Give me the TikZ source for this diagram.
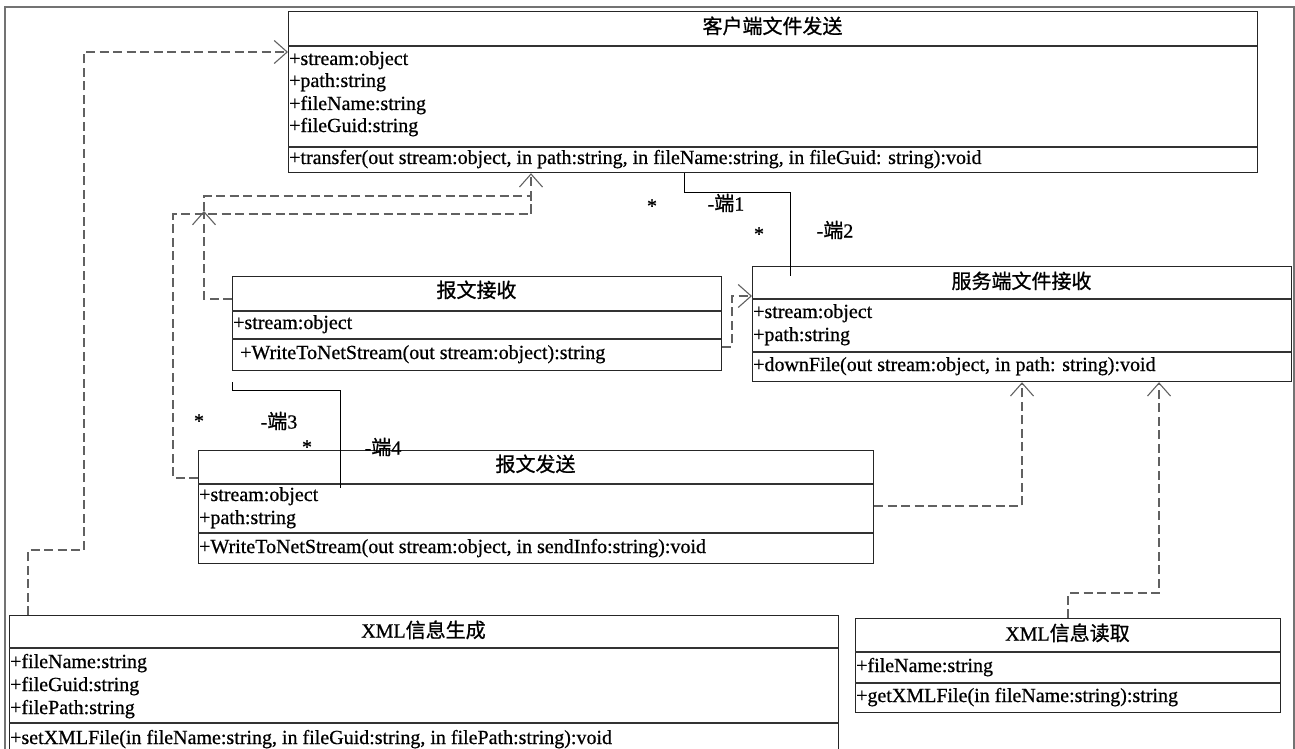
\documentclass[tikz,border=0pt]{standalone}
\usepackage{fontspec}
\setmainfont{Liberation Serif}[RawFeature={embolden=0.7}]
\newfontfamily\cjk{Noto Sans CJK SC}[RawFeature={embolden=0.9}]
\usetikzlibrary{arrows.meta}
\begin{document}
\begin{tikzpicture}[x=1pt,y=-1pt,
  box/.style={draw=black!85, line width=1.2pt, inner sep=0pt, anchor=north west},
  sepline/.style={draw=black!80, line width=1.1pt},
  txt/.style={inner sep=0pt, anchor=west, font=\fontsize{20}{23}\selectfont, text height=13pt, text depth=3pt},
  ttl/.style={inner sep=0pt, font=\fontsize{20}{23}\selectfont, text height=14pt, text depth=3pt},
  dep/.style={draw=black!62, line width=1.1pt, dash pattern=on 9pt off 4.5pt, -{Straight Barb[length=13pt,width=23pt]}},
  depline/.style={draw=black!62, line width=1.1pt, dash pattern=on 9pt off 4.5pt},
  assoc/.style={draw=black, line width=0.9pt},
  lbl/.style={inner sep=0pt, font=\fontsize{20}{23}\selectfont},
  outerframe/.style={draw=black!55, line width=1.5pt}]
\useasboundingbox (0,0) rectangle (1295,749);
\draw[outerframe] (5,7) rectangle (1294,770);

% ---------- class boxes ----------
% 客户端文件发送
\node[box, minimum width=969pt, minimum height=161pt] (C) at (288,11) {};
\draw[sepline] (288,46) -- (1257,46);
\draw[sepline] (288,147) -- (1257,147);
\node[ttl] (Ct) at (772.5,28) {\cjk 客户端文件发送};
\node[txt] (C1) at (289,60) {+stream:object};
\node[txt] (C2) at (289,82) {+path:string};
\node[txt] (C3) at (289,105) {+fileName:string};
\node[txt] (C4) at (289,127) {+fileGuid:string};
\node[txt] (C5) at (289,159) {+transfer(out stream:object, in path:string, in fileName:string, in fileGuid: string):void};

% 报文接收
\node[box, minimum width=489pt, minimum height=94pt] (R) at (232,276) {};
\draw[sepline] (232,311) -- (721,311);
\draw[sepline] (232,339) -- (721,339);
\node[ttl] (Rt) at (476.5,292) {\cjk 报文接收};
\node[txt] (R1) at (233,324) {+stream:object};
\node[txt] (R2) at (240,354) {+WriteToNetStream(out stream:object):string};

% 服务端文件接收
\node[box, minimum width=539pt, minimum height=115pt] (S) at (752,266) {};
\draw[sepline] (752,299) -- (1291,299);
\draw[sepline] (752,352) -- (1291,352);
\node[ttl] (St) at (1021.5,283) {\cjk 服务端文件接收};
\node[txt] (S1) at (753,313) {+stream:object};
\node[txt] (S2) at (753,336) {+path:string};
\node[txt] (S3) at (753,366) {+downFile(out stream:object, in path: string):void};

% 报文发送
\node[box, minimum width=675pt, minimum height=113pt] (P) at (198,450) {};
\draw[sepline] (198,484) -- (873,484);
\draw[sepline] (198,533) -- (873,533);
\node[ttl] (Pt) at (535.5,466) {\cjk 报文发送};
\node[txt] (P1) at (199,496) {+stream:object};
\node[txt] (P2) at (199,519) {+path:string};
\node[txt] (P3) at (199,548) {+WriteToNetStream(out stream:object, in sendInfo:string):void};

% XML信息生成
\node[box, minimum width=829pt, minimum height=145pt] (G) at (9,615) {};
\draw[sepline] (9,648) -- (838,648);
\draw[sepline] (9,723) -- (838,723);
\node[ttl] (Gt) at (423.5,632) {XML{\cjk 信息生成}};
\node[txt] (G1) at (10,663) {+fileName:string};
\node[txt] (G2) at (10,686) {+fileGuid:string};
\node[txt] (G3) at (10,709) {+filePath:string};
\node[txt] (G4) at (10,739) {+setXMLFile(in fileName:string, in fileGuid:string, in filePath:string):void};

% XML信息读取
\node[box, minimum width=425pt, minimum height=94pt] (D) at (855,618) {};
\draw[sepline] (855,652) -- (1280,652);
\draw[sepline] (855,683) -- (1280,683);
\node[ttl] (Dt) at (1067.5,635) {XML{\cjk 信息读取}};
\node[txt] (D1) at (856,667) {+fileName:string};
\node[txt] (D2) at (856,697) {+getXMLFile(in fileName:string):string};

% ---------- dependencies ----------
\draw[dep] ([xshift=19pt]G.north west) -- (28,550) -- (84,550) -- (84,52) -- ([yshift=-41pt]C.north west);
\draw[dep] ([yshift=-28pt]P.north west) -- (173,478) -- (173,214) -- (531,214) -- ([xshift=243pt]C.south west);
\coordinate (tipR) at (204,211);
\draw[dep] ([yshift=-23pt]R.north west) -- (204,299) -- (tipR);
\draw[depline] (tipR) -- (204,196) -- (531,196) -- (531,214);
\draw[dep] ([yshift=-71pt]R.north east) -- (732,347) -- (732,296) -- ([yshift=-30pt]S.north west);
\draw[dep] ([yshift=-56pt]P.north east) -- (1022,506) -- ([xshift=270pt]S.south west);
\draw[dep] ([xshift=213pt]D.north west) -- (1068,593) -- (1159,593) -- ([xshift=407pt]S.south west);

% ---------- associations ----------
\draw[assoc] ([xshift=396pt]C.south west) -- (684,192) -- (790,192) -- ([xshift=38pt,yshift=-10pt]S.north west);
\coordinate (aR) at (232,382);
\draw[assoc] (aR) -- (232,390) -- (340,390) -- ([xshift=142pt,yshift=-38pt]P.north west);

\node[lbl] (m1) at (652,206) {*};
\node[lbl] (e1) at (726,203) {-{\cjk 端}1};
\node[lbl] (m2) at (759,234) {*};
\node[lbl] (e2) at (835,230) {-{\cjk 端}2};
\node[lbl] (m3) at (199,421) {*};
\node[lbl] (e3) at (279,421) {-{\cjk 端}3};
\node[lbl] (m4) at (307,447) {*};
\node[lbl] (e4) at (383,447) {-{\cjk 端}4};
\end{tikzpicture}
\end{document}
